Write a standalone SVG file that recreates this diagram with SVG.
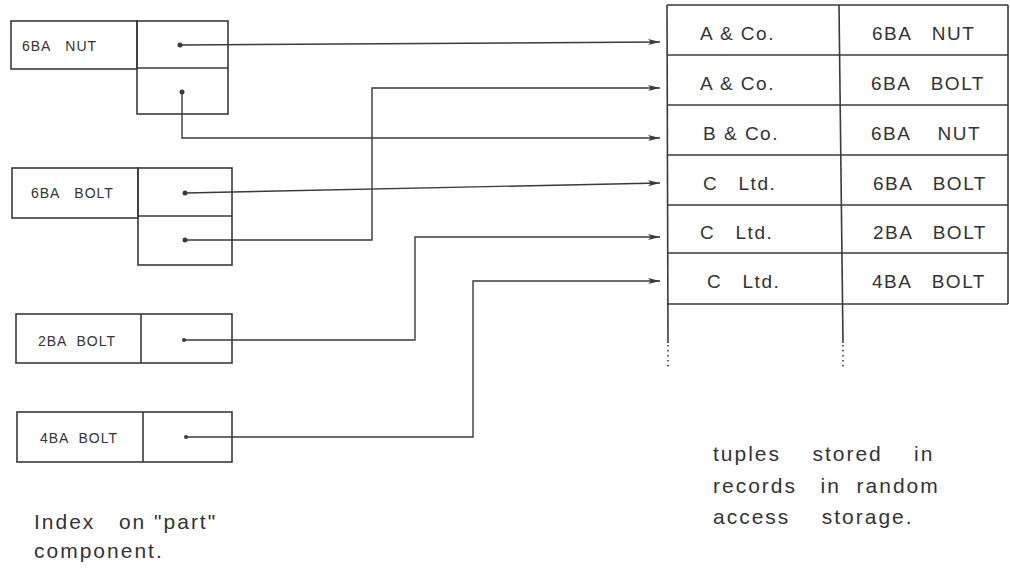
<svg xmlns="http://www.w3.org/2000/svg" width="1010" height="575" viewBox="0 0 1010 575" xml:space="preserve">
<style>
.box{fill:none;stroke:#3a3a3a;stroke-width:1.6}
.conn{fill:none;stroke:#3a3a3a;stroke-width:1.4}
.dot{fill:#3a3a3a}
.t{font-family:"Liberation Sans",Arial,sans-serif;fill:#333;white-space:pre}
.idx{font-size:14px;letter-spacing:1px}
.tab{font-size:19px;letter-spacing:1.5px}
.note{font-size:21px;letter-spacing:2px}
</style>
<defs>
<marker id="ah" viewBox="0 0 12 8" refX="12" refY="4" markerWidth="12" markerHeight="8" markerUnits="userSpaceOnUse" orient="auto">
<path d="M0,1 L12,4 L0,7 L3,4 Z" fill="#3a3a3a"/>
</marker>
</defs>
<rect width="1010" height="575" fill="#fff"/>

<g id="idx-6ba-nut">
<rect class="box" x="11" y="21" width="126" height="48"/>
<rect class="box" x="137" y="21" width="91" height="93"/>
<line class="box" x1="137" y1="68" x2="228" y2="68"/>
<text class="t idx" x="22" y="51">6BA   NUT</text>
<circle class="dot" cx="180" cy="45" r="2.5"/>
<circle class="dot" cx="182" cy="92" r="2.5"/>
</g>

<g id="idx-6ba-bolt">
<rect class="box" x="12" y="168" width="126" height="50"/>
<rect class="box" x="138" y="168" width="94" height="97"/>
<line class="box" x1="138" y1="216" x2="232" y2="216"/>
<text class="t idx" x="31" y="198">6BA   BOLT</text>
<circle class="dot" cx="185" cy="193" r="2.5"/>
<circle class="dot" cx="185" cy="240" r="2.5"/>
</g>

<g id="idx-2ba-bolt">
<rect class="box" x="16" y="314" width="216" height="49"/>
<line class="box" x1="141" y1="314" x2="141" y2="363"/>
<text class="t idx" x="38" y="346">2BA  BOLT</text>
<circle class="dot" cx="184" cy="340" r="2"/>
</g>

<g id="idx-4ba-bolt">
<rect class="box" x="17" y="412" width="215" height="50"/>
<line class="box" x1="143" y1="412" x2="143" y2="462"/>
<text class="t idx" x="40" y="443">4BA  BOLT</text>
<circle class="dot" cx="186" cy="437" r="2"/>
</g>

<g id="records">
<line class="box" x1="667" y1="5" x2="1008" y2="5"/>
<line class="box" x1="667" y1="55" x2="1008" y2="55"/>
<line class="box" x1="667" y1="105" x2="1008" y2="105"/>
<line class="box" x1="667" y1="155" x2="1008" y2="155"/>
<line class="box" x1="667" y1="205" x2="1008" y2="205"/>
<line class="box" x1="667" y1="253" x2="1008" y2="253"/>
<line class="box" x1="667" y1="304" x2="1008" y2="304"/>
<line class="box" x1="1008" y1="5" x2="1008" y2="304"/>
<line class="box" x1="667" y1="5" x2="668" y2="343"/>
<line class="box" x1="839" y1="5" x2="843" y2="343"/>
<line class="box" x1="668" y1="345" x2="668" y2="368" stroke-dasharray="1.5,3.5"/>
<line class="box" x1="843" y1="345" x2="843" y2="368" stroke-dasharray="1.5,3.5"/>
<text class="t tab" x="700" y="40">A &amp; Co.</text>
<text class="t tab" x="872" y="40">6BA   NUT</text>
<text class="t tab" x="700" y="90">A &amp; Co.</text>
<text class="t tab" x="871" y="90">6BA   BOLT</text>
<text class="t tab" x="703" y="140">B &amp; Co.</text>
<text class="t tab" x="871" y="140">6BA    NUT</text>
<text class="t tab" x="703" y="190">C   Ltd.</text>
<text class="t tab" x="873" y="190">6BA   BOLT</text>
<text class="t tab" x="700" y="239">C   Ltd.</text>
<text class="t tab" x="873" y="239">2BA   BOLT</text>
<text class="t tab" x="707" y="288">C   Ltd.</text>
<text class="t tab" x="872" y="288">4BA   BOLT</text>
</g>

<g id="connectors">
<path class="conn" d="M180,45 L660,42" marker-end="url(#ah)"/>
<path class="conn" d="M182,92 V138 H660" marker-end="url(#ah)"/>
<path class="conn" d="M185,193 L660,183" marker-end="url(#ah)"/>
<path class="conn" d="M185,240 H372 V88 H660" marker-end="url(#ah)"/>
<path class="conn" d="M184,340 H415 V237 H660" marker-end="url(#ah)"/>
<path class="conn" d="M186,437 H473 V281 H660" marker-end="url(#ah)"/>
</g>

<g id="notes">
<text class="t note" x="34" y="529">Index   on "part"</text>
<text class="t note" x="34" y="558">component.</text>
<text class="t note" x="713" y="461">tuples    stored    in</text>
<text class="t note" x="713" y="493">records   in  random</text>
<text class="t note" x="713" y="524">access    storage.</text>
</g>
</svg>
